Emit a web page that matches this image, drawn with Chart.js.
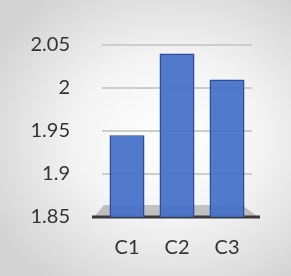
<!DOCTYPE html>
<html>
<head>
<meta charset="utf-8">
<script src="https://cdn.jsdelivr.net/npm/chart.js@4.4.1/dist/chart.umd.min.js"></script>
<style>
  html, body { margin: 0; padding: 0; }
  body {
    width: 291px; height: 276px; overflow: hidden;
    background: radial-gradient(ellipse 70% 65% at 58% 50%, #ffffff 0%, #f4f4f4 45%, #d2d2d2 100%);
  }
  #wrap { position: relative; width: 291px; height: 276px; }
</style>
</head>
<body>
<div id="wrap"><canvas id="myChart" width="291" height="276"></canvas></div>
<script>
// data
const categories = ['C1', 'C2', 'C3'];
const values = [1.945, 2.04, 2.01];
const yMin = 1.85;
const yMax = 2.05;
const yStep = 0.05;

const barBlue = 'rgba(66, 110, 200, 0.92)';
const barEdge = '#2c4d9c';

// lantai 3D tipis di bawah batang
const floorPlugin = {
  id: 'floor',
  beforeDatasetsDraw(chart) {
    const { ctx, chartArea } = chart;
    const y = chartArea.bottom;
    ctx.save();
    ctx.fillStyle = 'rgba(150,150,150,0.55)';
    ctx.beginPath();
    ctx.moveTo(chartArea.left - 8, y);
    ctx.lineTo(chartArea.left + 2, y - 12);
    ctx.lineTo(chartArea.right - 10, y - 12);
    ctx.lineTo(chartArea.right + 6, y);
    ctx.closePath();
    ctx.fill();
    ctx.strokeStyle = '#3a3a3a';
    ctx.lineWidth = 3;
    ctx.beginPath();
    ctx.moveTo(chartArea.left - 10, y);
    ctx.lineTo(chartArea.right + 8, y);
    ctx.stroke();
    ctx.restore();
  }
};

const ctx = document.getElementById('myChart').getContext('2d');
new Chart(ctx, {
  type: 'bar',
  data: {
    labels: categories,
    datasets: [{
      data: values,
      backgroundColor: barBlue,
      borderColor: barEdge,
      borderWidth: 1.5,
      barPercentage: 0.7,
      categoryPercentage: 1
    }]
  },
  options: {
    responsive: false,
    animation: false,
    layout: { padding: { top: 45, right: 39, bottom: 0, left: 0 } },
    plugins: { legend: { display: false }, tooltip: { enabled: false } },
    scales: {
      y: {
        min: yMin, max: yMax,
        afterFit: s => { s.width = 102; },
        border: { display: false },
        grid: { color: '#cdcdcd', lineWidth: 2, drawTicks: false },
        ticks: {
          stepSize: yStep, padding: 32, color: '#333333',
          font: { family: 'Lato', size: 20 },
          callback: v => Math.round(v * 100) / 100
        }
      },
      x: {
        afterFit: s => { s.height = 59; },
        border: { display: false },
        grid: { display: false, drawTicks: false },
        ticks: { padding: 19, color: '#333333', font: { family: 'Lato', size: 20 } }
      }
    }
  },
  plugins: [floorPlugin]
});
</script>
</body>
</html>
